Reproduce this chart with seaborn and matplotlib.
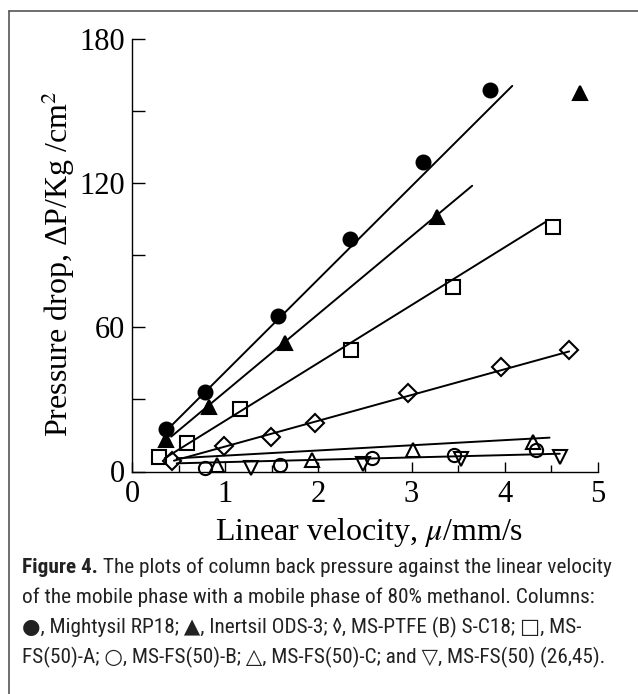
import matplotlib
matplotlib.use('Agg')
import numpy as np
import pandas as pd
import seaborn as sns
import matplotlib.pyplot as plt
from matplotlib.lines import Line2D
from matplotlib.ticker import MultipleLocator, FixedLocator
from matplotlib import font_manager
from matplotlib.font_manager import FontProperties

# ---------------- data ----------------
mightysil_x = [0.37, 0.78, 1.57, 2.34, 3.12, 3.84]
mightysil_y = [17.6, 33.0, 64.8, 97.0, 129.0, 159.0]
mightysil_fit_x = [0.42, 4.08]
mightysil_fit_y = [19.0, 160.6]

inertsil_x = [0.37, 0.83, 1.64, 3.27, 4.81]
inertsil_y = [13.0, 27.0, 53.4, 106.0, 157.6]
inertsil_fit_x = [0.42, 3.65]
inertsil_fit_y = [14.5, 119.0]

fs_a_x = [0.29, 0.59, 1.16, 2.35, 3.44, 4.52]
fs_a_y = [5.9, 12.0, 26.0, 50.6, 76.7, 102.0]
fs_a_fit_x = [0.35, 4.44]
fs_a_fit_y = [5.5, 104.0]

ptfe_x = [0.43, 0.99, 1.49, 1.96, 2.96, 3.96, 4.69]
ptfe_y = [4.5, 10.8, 14.5, 20.0, 32.6, 43.4, 50.6]
ptfe_fit_x = [0.45, 4.69]
ptfe_fit_y = [4.5, 50.0]

fs_b_x = [0.78, 1.59, 2.57, 3.46, 4.34]
fs_b_y = [1.3, 2.7, 5.5, 6.9, 9.0]

fs_c_x = [0.91, 1.93, 3.02, 4.30]
fs_c_y = [2.5, 4.8, 9.0, 12.4]
fs_c_fit_x = [0.48, 4.48]
fs_c_fit_y = [5.5, 14.1]

fs_2645_x = [1.28, 2.48, 3.53, 4.59]
fs_2645_y = [1.3, 3.0, 5.2, 6.2]
fs_2645_fit_x = [0.48, 4.59]
fs_2645_fit_y = [3.4, 7.4]

x_ticks = [0, 1, 2, 3, 4, 5]
y_ticks = [0, 60, 120, 180]

x_label = "Linear velocity, $\\mu$/mm/s"
y_label = "Pressure drop, \u0394P/Kg /cm$^{2}$"
caption_bold = "Figure 4."
caption_lines = [
    " The plots of column back pressure against the linear velocity",
    "of the mobile phase with a mobile phase of 80% methanol. Columns:",
    "\u25cf, Mightysil RP18; \u25b2, Inertsil ODS-3; \u25ca, MS-PTFE (B) S-C18; \u25a1, MS-",
    "FS(50)-A; \u25cb, MS-FS(50)-B; \u25b3, MS-FS(50)-C; and \u25bd, MS-FS(50) (26,45).",
]

# ---------------- style ----------------
sns.set_theme(style='ticks')
plt.rcParams['font.family'] = ['Liberation Serif', 'DejaVu Serif']
plt.rcParams['mathtext.fontset'] = 'stix'

W, H = 638, 694
fig = plt.figure(figsize=(W / 100, H / 100), dpi=100)
fig.patch.set_facecolor('white')

px0, px1 = 132, 598
py0, py1 = 471.5, 39.3
ax = fig.add_axes([px0 / W, 1 - py0 / H, (px1 - px0) / W, (py0 - py1) / H])
ax.set_facecolor('white')

series = [
    (mightysil_x, mightysil_y, 'o', True, 10, mightysil_fit_x, mightysil_fit_y),
    (inertsil_x, inertsil_y, '^', True, 10.5, inertsil_fit_x, inertsil_fit_y),
    (fs_a_x, fs_a_y, 's', False, 10, fs_a_fit_x, fs_a_fit_y),
    (ptfe_x, ptfe_y, 'D', False, 9.5, ptfe_fit_x, ptfe_fit_y),
    (fs_b_x, fs_b_y, 'o', False, 9.5, None, None),
    (fs_c_x, fs_c_y, '^', False, 10.5, fs_c_fit_x, fs_c_fit_y),
    (fs_2645_x, fs_2645_y, 'v', False, 10.5, fs_2645_fit_x, fs_2645_fit_y),
]

for xs, ys, mk, filled, ms, fx, fy in series:
    if fx is not None:
        sns.lineplot(x=fx, y=fy, color='black', lw=1.4, ax=ax, legend=False,
                     estimator=None, sort=False)
    sns.lineplot(x=xs, y=ys, marker=mk, linestyle='none', ms=ms,
                 mfc='black' if filled else 'none', mec='black', mew=1.5,
                 color='black', ax=ax, legend=False, estimator=None, sort=False,
                 clip_on=False)

ax.set_xlim(0, 5)
ax.set_ylim(0, 180)
ax.xaxis.set_major_locator(FixedLocator(x_ticks))
ax.xaxis.set_minor_locator(MultipleLocator(0.5))
ax.yaxis.set_major_locator(FixedLocator(y_ticks))
ax.yaxis.set_minor_locator(MultipleLocator(30))
ax.set_xticklabels([str(t) for t in x_ticks])
ax.set_yticklabels([str(t) for t in y_ticks])
ax.tick_params(axis='both', which='both', direction='in', color='black', width=1.0,
               labelcolor='black')
ax.tick_params(axis='x', which='major', length=7, pad=6, labelsize=22)
ax.tick_params(axis='x', which='minor', length=5)
ax.tick_params(axis='y', which='both', length=9, pad=5, labelsize=22)
for s in ['top', 'right']:
    ax.spines[s].set_visible(False)
for s in ['left', 'bottom']:
    ax.spines[s].set_color('black')
    ax.spines[s].set_linewidth(1.0)
ax.set_xlabel('')
ax.set_ylabel('')

fig.text(369 / W, 1 - 540 / H, x_label, ha='center', va='baseline', fontsize=23,
         color='black')
fig.text(58 / W, 1 - 264 / H, y_label, ha='center', va='center', rotation=90,
         fontsize=23, color='black')

# border of the figure panel
fig.add_artist(Line2D([9 / W, 1.0], [1 - 11 / H, 1 - 11 / H], transform=fig.transFigure,
                      color='#555555', lw=1.2))
fig.add_artist(Line2D([9 / W, 9 / W], [1 - 11 / H, 0.0], transform=fig.transFigure,
                      color='#555555', lw=1.2))

# caption font: prefer a condensed sans
ttf = font_manager.fontManager.ttflist
names = {f.name for f in ttf}

def find_file(*keys):
    for k in keys:
        for f in ttf:
            if f.fname.split('/')[-1] == k:
                return f.fname
    return None

reg_props = bold_props = None
if 'Roboto Condensed' in names:
    reg_props = dict(family=['Roboto Condensed', 'DejaVu Sans'])
    bold_props = dict(family=['Roboto Condensed', 'DejaVu Sans'], fontweight='bold')
elif 'Liberation Sans Narrow' in names:
    reg_props = dict(family=['Liberation Sans Narrow', 'DejaVu Sans'])
    bold_props = dict(family=['Liberation Sans Narrow', 'DejaVu Sans'], fontweight='bold')
else:
    r = find_file('DejaVuSansCondensed.ttf')
    b = find_file('DejaVuSansCondensed-Bold.ttf')
    if r and b:
        reg_props = dict(fontproperties=FontProperties(fname=r))
        bold_props = dict(fontproperties=FontProperties(fname=b))
    else:
        reg_props = dict(family=['Liberation Sans', 'DejaVu Sans'])
        bold_props = dict(family=['Liberation Sans', 'DejaVu Sans'], fontweight='bold')

cap_x = 22
cap_base = [573, 603, 633, 663]
target_w = 617 - 22
cap_color = '#222222'

def mk_text(x, yb, s, fs, props):
    p = dict(props)
    if 'fontproperties' in p:
        fp = p['fontproperties'].copy()
        fp.set_size(fs)
        return fig.text(x / W, 1 - yb / H, s, fontproperties=fp, va='baseline', color=cap_color)
    return fig.text(x / W, 1 - yb / H, s, fontsize=fs, va='baseline', color=cap_color, **p)

def draw_caption(fs):
    arts = []
    tb = mk_text(cap_x, cap_base[0], caption_bold, fs, bold_props)
    arts.append(tb)
    fig.canvas.draw()
    bb = tb.get_window_extent()
    t1 = mk_text(bb.x1, cap_base[0], caption_lines[0], fs, reg_props)
    arts.append(t1)
    for i in range(1, 4):
        arts.append(mk_text(cap_x, cap_base[i], caption_lines[i], fs, reg_props))
    fig.canvas.draw()
    width = t1.get_window_extent().x1 - cap_x
    return arts, width

fs = 14.0
arts, width = draw_caption(fs)
for a in arts:
    a.remove()
fs = fs * target_w / width
arts, width = draw_caption(fs)

fig.savefig('out.png', dpi=100, facecolor='white')
